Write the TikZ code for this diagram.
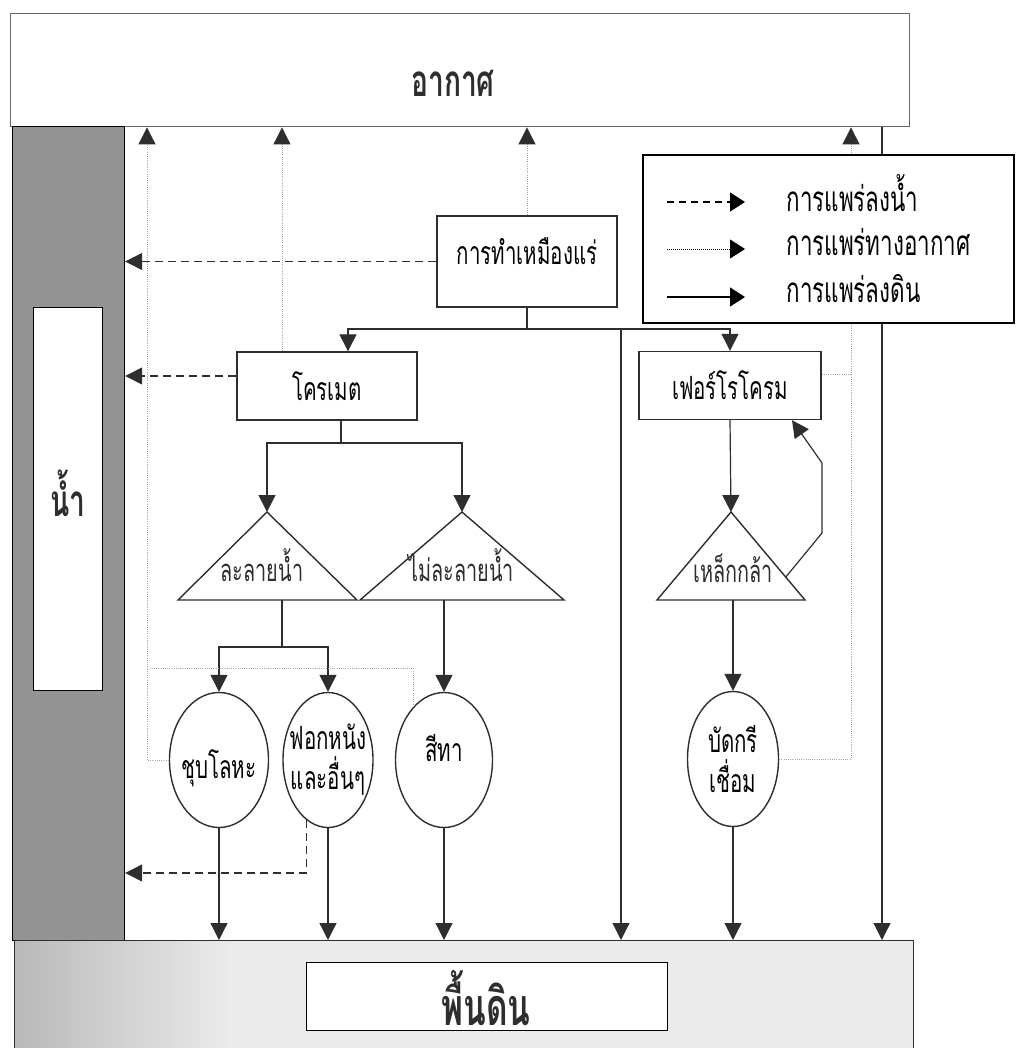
\documentclass[tikz,border=0pt]{standalone}
\usepackage{fontspec}
\setmainfont{Loma}[Script=Thai,FakeStretch=0.64]
\usetikzlibrary{arrows.meta,calc,shapes.geometric}
\definecolor{inkgray}{HTML}{2E2E2E}
\newcommand{\shifttext}[2]{\raisebox{#1}[\height][\depth]{#2}}
\tikzset{
  procbox/.style={draw=inkgray, line width=1.4pt, fill=white, minimum height=68pt, inner sep=2pt, font=\fontsize{32}{36}\selectfont},
  ovalbox/.style={ellipse, draw=inkgray, line width=1.4pt, fill=white, minimum height=135pt, inner sep=0pt, align=center, font=\fontsize{32}{40}\selectfont},
  bigtext/.style={font=\fontsize{44}{48}\selectfont\bfseries, text=inkgray},
  lbl/.style={font=\fontsize{31}{34}\selectfont, text=inkgray},
  legtext/.style={font=\fontsize{35}{38}\selectfont, anchor=west},
  tri/.style={draw=inkgray, line width=1.4pt, fill=white, line join=miter},
  wire/.style={draw=inkgray, line width=1.2pt},
  soilflow/.style={wire, -{Triangle[length=17pt,width=17pt]}},
  waterflow/.style={soilflow, dash pattern=on 8pt off 5pt},
  airline/.style={draw=gray!70, line width=0.8pt, dash pattern=on 1pt off 1.2pt},
  airflow/.style={airline, -{Triangle[length=17pt,width=17pt,color=inkgray]}},
  legsoil/.style={draw=black, line width=1.3pt, -{Triangle[length=15pt,width=19pt]}},
}
\begin{document}
\begin{tikzpicture}[x=1pt, y=-1pt]
  \useasboundingbox (0,0) rectangle (1015,1048);
  % compartments
  \node[draw=gray!80!black, line width=1.4pt, fill=white, minimum width=899pt, minimum height=113pt, anchor=north west] (air) at (10,13) {};
  \node[bigtext] (airtxt) at (453,83) {อากาศ};
  \node[draw=black, line width=1.2pt, fill=gray!85, minimum width=112pt, minimum height=814pt, anchor=north west] (water) at (12,126) {};
  \node[draw=black, line width=1.2pt, fill=white, minimum width=69pt, minimum height=383pt, anchor=north west] (waterin) at (33,307) {};
  \node[bigtext] (watertxt) at (68,493) {น้ำ};
  \node[draw=inkgray, line width=1.2pt, fill=gray!16, minimum width=899pt, minimum height=114pt, anchor=north west] (ground) at (14,940) {};
  \fill[left color=gray!55, right color=gray!16] (15,941) rectangle (230,1048);
  \node[draw=black, line width=1.4pt, fill=white, minimum width=361pt, minimum height=68pt, anchor=north west] (groundin) at (306,962) {};
  \node[bigtext, font=\fontsize{52}{56}\selectfont\bfseries] (groundtxt) at (486,998) {พื้นดิน};

  % sources
  \node[procbox, minimum width=180pt, minimum height=91pt] (mine) at (527,261.5) {\shifttext{10pt}{การทำเหมืองแร่}};
  \node[procbox, minimum width=180pt] (chro) at (327,386) {โครเมต};
  \node[procbox, minimum width=182pt] (ferro) at (730,385.5) {เฟอร์โรโครม};

  % triangles
  \coordinate (solTop) at (267,512); \coordinate (solL) at (178,600); \coordinate (solR) at (357,600);
  \coordinate (insTop) at (462,512); \coordinate (insL) at (360,600); \coordinate (insR) at (564,600);
  \coordinate (stTop) at (731,512);  \coordinate (stL) at (657,600);  \coordinate (stR) at (805,600);
  \draw[tri] (solTop) -- (solR) -- (solL) -- cycle;
  \draw[tri] (insTop) -- (insR) -- (insL) -- cycle;
  \draw[tri] (stTop) -- (stR) -- (stL) -- cycle;
  \node[lbl] (soltxt) at (262,565) {ละลายน้ำ};
  \node[lbl] (instxt) at (461,565) {ไม่ละลายน้ำ};
  \node[lbl] (sttxt) at (733,568) {เหล็กกล้า};

  % end uses
  \node[ovalbox, minimum width=99pt] (chub) at (219,760) {\makebox[0pt]{\shifttext{-8pt}{ชุบโลหะ}}};
  \node[ovalbox, minimum width=90pt] (fok) at (328,760) {\makebox[0pt]{ฟอกหนัง}\\\makebox[0pt]{และอื่นๆ}};
  \node[ovalbox, minimum width=97pt] (sita) at (444,760) {\makebox[0pt]{\shifttext{12pt}{สีทา}}};
  \node[ovalbox, minimum width=91pt] (bat) at (733,759) {\makebox[0pt]{บัดกรี}\\\makebox[0pt]{เชื่อม}};

  % flows to soil
  \coordinate (jm) at (527,329);
  \coordinate (jc) at (348,329);
  \coordinate (jg) at (621,329);
  \coordinate (xr) at (882,0);
  \draw[wire] (mine.south) -- (jm);
  \draw[soilflow] (jm) -- (jc) -- (jc |- chro.north);
  \draw[soilflow] (jm) -| (ferro.north);
  \draw[soilflow] (jg) -- (jg |- ground.north);
  \draw[soilflow] (air.south -| xr) -- (xr |- ground.north);
  \coordinate (jk) at (341,443);
  \draw[wire] (chro.south -| jk) -- (jk);
  \draw[soilflow] (jk) -| (solTop);
  \draw[soilflow] (jk) -| (insTop);
  \coordinate (js) at (282,647);
  \draw[wire] (js |- solL) -- (js);
  \draw[soilflow] (js) -| (chub.north);
  \draw[soilflow] (js) -| (fok.north);
  \draw[soilflow] (sita.north |- insL) -- (sita.north);
  \draw[soilflow] (ferro.south) -- (stTop);
  \draw[soilflow] (bat.north |- stL) -- (bat.north);
  \coordinate (fb1) at (822,533); \coordinate (fb2) at (822,463); \coordinate (fb3) at (792,0);
  \draw[soilflow] ($(stTop)!0.74!(stR)$) -- (fb1) -- (fb2) -- (ferro.south -| fb3);
  \foreach \n in {chub,fok,sita,bat}
    \draw[soilflow] (\n.south) -- (\n.south |- ground.north);

  % flows to water
  \draw[waterflow] (mine.west) -- (mine.west -| water.east);
  \coordinate (cw) at ($(chro.west)+(0,-10)$);
  \draw[waterflow] (cw) -- (cw -| water.east);
  \coordinate (wf) at (0,873);
  \draw[waterflow] (fok.250) |- (wf -| water.east);

  % flows to air
  \coordinate (xa) at (147,0); \coordinate (ya) at (0,668);
  \coordinate (xb) at (282,0); \coordinate (xd) at (851,0);
  \draw[airflow] (chub.west) -- (chub.west -| xa) -- (xa |- air.south);
  \draw[airline] (sita.120) |- (xa |- ya);
  \draw[airflow] (chro.north -| xb) -- (xb |- air.south);
  \draw[airflow] (mine.north) -- (mine.north |- air.south);
  \draw[airflow] (bat.east) -- (bat.east -| xd) -- (xd |- air.south);
  \coordinate (fe) at ($(ferro.east)+(0,-11)$);
  \draw[airline] (fe) -- (fe -| xd);

  % legend
  \node[draw=black, line width=1.6pt, fill=white, minimum width=371pt, minimum height=168pt, anchor=north west] (legend) at (642,154) {};
  \coordinate (l1) at (667,202); \coordinate (l1e) at (745,202);
  \coordinate (l2) at (667,249); \coordinate (l2e) at (745,249);
  \coordinate (l3) at (667,297); \coordinate (l3e) at (745,297);
  \draw[legsoil, dash pattern=on 7pt off 5pt] (l1) -- (l1e);
  \draw[legsoil, line width=0.8pt, dash pattern=on 1pt off 1pt] (l2) -- (l2e);
  \draw[legsoil] (l3) -- (l3e);
  \node[legtext] (lt1) at (783,193) {การแพร่ลงน้ำ};
  \node[legtext] (lt2) at (783,242) {การแพร่ทางอากาศ};
  \node[legtext] (lt3) at (783,289) {การแพร่ลงดิน};
\end{tikzpicture}
\end{document}
